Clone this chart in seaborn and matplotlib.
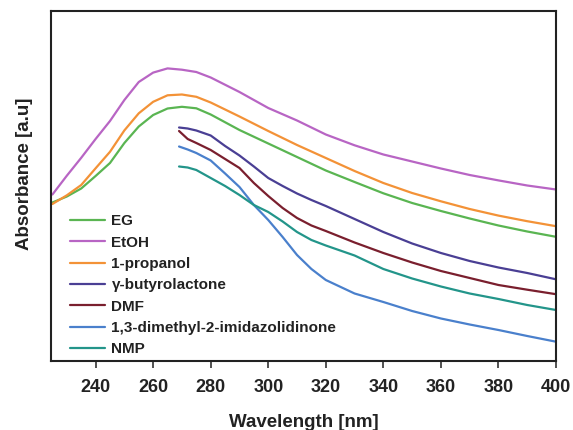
import matplotlib
matplotlib.use("Agg")
import matplotlib.pyplot as plt
import seaborn as sns
import pandas as pd

# ---- data ----
wl_a = [225, 230, 235, 240, 245, 250, 255, 260, 265, 270, 275, 280, 290, 300,
        310, 320, 330, 340, 350, 360, 370, 380, 390, 400]
etoh = [1.665, 1.853, 2.032, 2.22, 2.40, 2.61, 2.79, 2.884, 2.926, 2.913, 2.89,
        2.835, 2.69, 2.53, 2.405, 2.265, 2.157, 2.065, 1.995, 1.925, 1.86, 1.806,
        1.755, 1.715]
propanol = [1.57, 1.657, 1.76, 1.927, 2.092, 2.306, 2.477, 2.592, 2.657, 2.665,
            2.642, 2.585, 2.445, 2.30, 2.16, 2.03, 1.90, 1.78, 1.68, 1.597, 1.52,
            1.454, 1.398, 1.348]
eg = [1.585, 1.645, 1.725, 1.85, 1.98, 2.18, 2.345, 2.46, 2.525, 2.542, 2.527,
      2.465, 2.31, 2.175, 2.04, 1.905, 1.79, 1.677, 1.58, 1.50, 1.425, 1.355,
      1.295, 1.242]

wl_b = [269, 272, 275, 280, 285, 290, 295, 300, 305, 310, 315, 320, 330, 340,
        350, 360, 370, 380, 390, 400]
gbl = [2.335, 2.325, 2.305, 2.255, 2.15, 2.055, 1.945, 1.83, 1.75, 1.675, 1.61,
       1.55, 1.42, 1.29, 1.175, 1.08, 1.00, 0.935, 0.88, 0.817]
dmf = [2.30, 2.22, 2.18, 2.11, 2.02, 1.93, 1.78, 1.65, 1.53, 1.43, 1.355, 1.30,
       1.185, 1.08, 0.985, 0.90, 0.83, 0.76, 0.713, 0.668]
dmi = [2.145, 2.115, 2.08, 2.005, 1.875, 1.74, 1.56, 1.41, 1.24, 1.06, 0.92,
       0.81, 0.675, 0.59, 0.50, 0.425, 0.365, 0.31, 0.25, 0.193]
nmp = [1.945, 1.935, 1.91, 1.83, 1.75, 1.66, 1.56, 1.49, 1.395, 1.29, 1.21,
       1.155, 1.055, 0.92, 0.825, 0.745, 0.675, 0.62, 0.56, 0.51]

labels = ["EG", "EtOH", "1-propanol", "\u03b3-butyrolactone", "DMF",
          "1,3-dimethyl-2-imidazolidinone", "NMP"]
colors = ["#5ab552", "#b865c4", "#f39237", "#4a3f94", "#7a1f2e", "#4a80cc",
          "#23958a"]
xticks = [240, 260, 280, 300, 320, 340, 360, 380, 400]

series = [(labels[0], wl_a, eg), (labels[1], wl_a, etoh),
          (labels[2], wl_a, propanol), (labels[3], wl_b, gbl),
          (labels[4], wl_b, dmf), (labels[5], wl_b, dmi), (labels[6], wl_b, nmp)]
df = pd.concat([pd.DataFrame({"wl": x, "abs": y, "solvent": n})
                for n, x, y in series], ignore_index=True)

# ---- plot ----
sns.set_theme(style="white")
plt.rcParams["font.family"] = ["Liberation Sans", "DejaVu Sans"]
plt.rcParams["font.weight"] = "bold"

fig = plt.figure(figsize=(5.73, 4.30), dpi=100)
ax = fig.add_axes([51 / 573, 69 / 430, 505 / 573, 350 / 430])

sns.lineplot(data=df, x="wl", y="abs", hue="solvent", hue_order=labels,
             palette=dict(zip(labels, colors)), estimator=None, sort=False,
             linewidth=1.6, ax=ax)
for ln in ax.get_lines():
    ln.set_solid_joinstyle("round")

ax.set_xlim(224.5, 400)
ax.set_ylim(0, 3.5)
ax.set_xticks(xticks)
ax.set_yticks([])
ax.tick_params(axis="x", direction="out", length=5, width=1.2, pad=8,
               labelsize=13, colors="#333333", bottom=True)
for lab in ax.get_xticklabels():
    lab.set_fontweight("bold")
    lab.set_color("#222222")
for sp in ax.spines.values():
    sp.set_visible(True)
    sp.set_color("#222222")
    sp.set_linewidth(1.5)

ax.set_xlabel("Wavelength [nm]", fontsize=13.5, fontweight="bold",
              color="#222222", labelpad=13)
ax.set_ylabel("Absorbance [a.u]", fontsize=13.5, fontweight="bold",
              color="#222222")
ax.yaxis.set_label_coords(-0.036, 0.534)

leg = ax.legend(loc="upper left", bbox_to_anchor=(0.038, 0.419), frameon=False,
                fontsize=11, handlelength=2.3, handletextpad=0.4,
                labelspacing=0.48, borderpad=0, borderaxespad=0)
for t in leg.get_texts():
    t.set_fontweight("bold")
    t.set_color("#222222")
for h in leg.get_lines():
    h.set_linewidth(1.6)

fig.savefig("out.png", dpi=100)
